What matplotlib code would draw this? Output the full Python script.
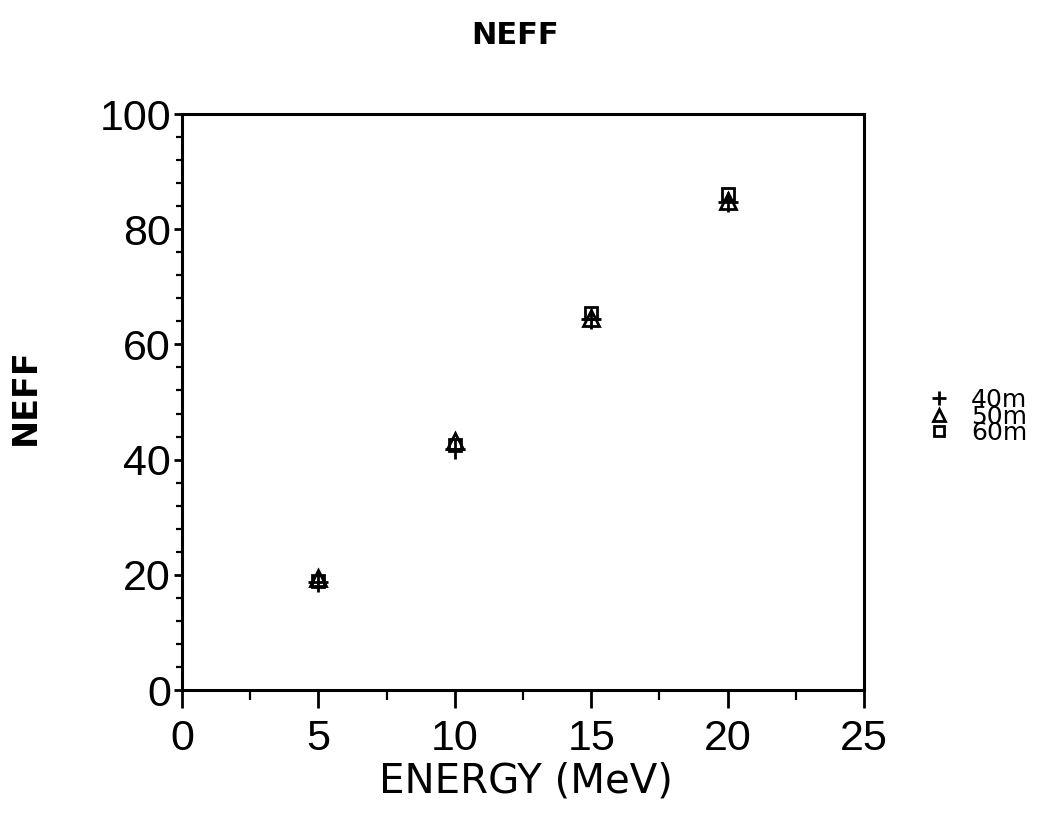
import matplotlib
matplotlib.use("Agg")
import matplotlib.pyplot as plt
from matplotlib.ticker import MultipleLocator

plt.rcParams["font.family"] = ["Liberation Sans", "DejaVu Sans"]

# Effective N vs beam energy for three distances
energy = [5, 10, 15, 20]
neff_40m = [18.7, 41.8, 64.4, 84.7]
neff_50m = [19.5, 43.2, 64.6, 84.9]
neff_60m = [18.9, 42.5, 65.5, 86.1]
series_labels = ["40m", "50m", "60m"]

W, H = 1041, 814
fig = plt.figure(figsize=(W / 100, H / 100), dpi=100)
fig.patch.set_facecolor("white")
ax = fig.add_axes([182 / W, 1 - 690 / H, 682 / W, 576 / H])

ax.plot(energy, neff_40m, linestyle="none", marker="+", ms=14, mew=2,
        color="black", label=series_labels[0])
ax.plot(energy, neff_50m, linestyle="none", marker="^", ms=11, mew=2,
        mfc="none", mec="black", label=series_labels[1])
ax.plot(energy, neff_60m, linestyle="none", marker="s", ms=9, mew=2,
        mfc="none", mec="black", label=series_labels[2])

ax.set_xlim(0, 25)
ax.set_ylim(0, 100)
ax.xaxis.set_major_locator(MultipleLocator(5))
ax.xaxis.set_minor_locator(MultipleLocator(2.5))
ax.yaxis.set_major_locator(MultipleLocator(20))
ax.yaxis.set_minor_locator(MultipleLocator(4))

for side in ax.spines.values():
    side.set_linewidth(2.2)
ax.tick_params(which="both", direction="out", top=False, right=False,
               labelsize=31)
ax.tick_params(axis="x", which="major", length=13, width=2, pad=8)
ax.tick_params(axis="x", which="minor", length=7, width=1.6)
ax.tick_params(axis="y", which="major", length=6, width=2, pad=2)
ax.tick_params(axis="y", which="minor", length=4.5, width=1.6)

# titles and axis names, placed in figure pixels
fig.text(515 / W, 1 - 35 / H, "NEFF", ha="center", va="center",
         fontsize=22, fontweight="bold", family="DejaVu Sans")
fig.text(25 / W, 1 - 397 / H, "NEFF", ha="center", va="center",
         rotation=90, fontsize=24, fontweight="bold", family="DejaVu Sans")
fig.text(526 / W, 1 - 782 / H, "ENERGY (MeV)", ha="center", va="center",
         fontsize=29, family="DejaVu Sans")

fig.legend(loc="upper left", bbox_to_anchor=(930 / W, 1 - 388 / H),
           frameon=False, prop={"family": "DejaVu Sans", "size": 18},
           handlelength=0.7, handletextpad=0.95, labelspacing=-0.3,
           borderpad=0, borderaxespad=0, markerscale=0.75)

fig.savefig("out.png", dpi=100, facecolor="white")
plt.close(fig)
